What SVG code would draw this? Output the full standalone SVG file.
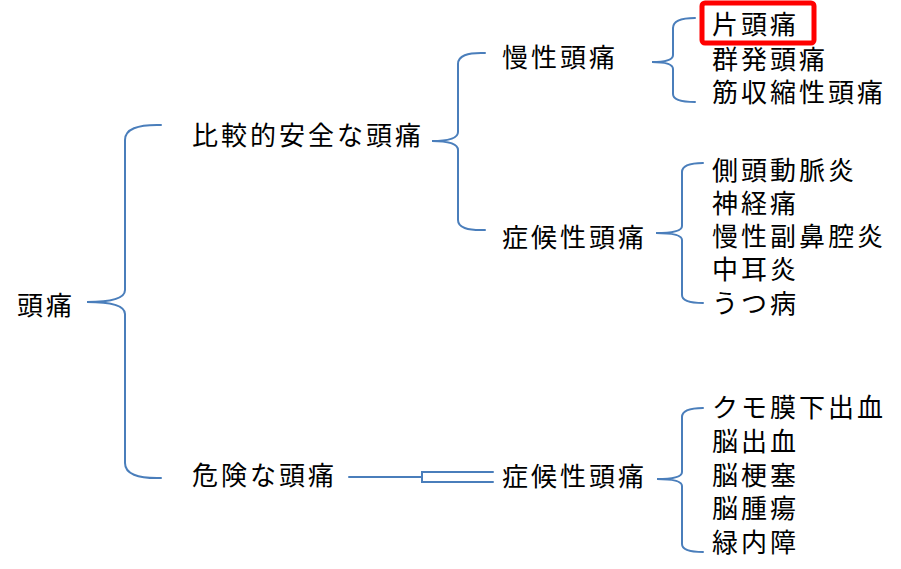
<svg xmlns="http://www.w3.org/2000/svg" width="901" height="569" viewBox="0 0 901 569">
<style>
.t{font-family:"Noto Sans CJK JP","Noto Sans CJK SC",sans-serif;font-size:26px;letter-spacing:3px;fill:#000}
.c{fill:none;stroke:#4a7ebb;stroke-width:2;stroke-linecap:round}
</style>
<rect width="901" height="569" fill="#fff"/>
<g id="connectors">
<path class="c" d="M161,125 Q125,124 125,140 L125,290 Q125,302 87,302 Q125,302 125,314 L125,463 Q125,479 161,478"/>
<path class="c" d="M485,53 Q458,52 458,64 L458,132 Q458,141 432,141 Q458,141 458,150 L458,220 Q458,231 485,230"/>
<path class="c" d="M695,18 Q673,18 673,28 L673,55 Q673,62 652,62 Q673,62 673,69 L673,94 Q673,102 695,102"/>
<path class="c" d="M703,163 Q682,163 682,172 L682,226 Q682,233 656,233 Q682,233 682,240 L682,295 Q682,303 703,303"/>
<path class="c" d="M703,408 Q682,408 682,417 L682,472 Q682,479 657,479 Q682,479 682,486 L682,544 Q682,552 703,552"/>
<path class="c" d="M349,477 L422,477"/>
<path class="c" d="M493,472 L422,472 L422,482 L493,482"/>
</g>
<g id="n-root"><text class="t" x="17" y="315">頭痛</text></g>
<g id="n-safe"><text class="t" x="192" y="145">比較的安全な頭痛</text></g>
<g id="n-danger"><text class="t" x="192" y="485">危険な頭痛</text></g>
<g id="n-chronic"><text class="t" x="502" y="67">慢性頭痛</text></g>
<g id="n-symp1"><text class="t" x="502" y="247">症候性頭痛</text></g>
<g id="n-symp2"><text class="t" x="502" y="486">症候性頭痛</text></g>
<g id="n-list1">
<rect x="702" y="3" width="112" height="40" rx="3" fill="none" stroke="#f00" stroke-width="5"/>
<text class="t" x="712" y="34">片頭痛</text>
<text class="t" x="712" y="69">群発頭痛</text>
<text class="t" x="712" y="102">筋収縮性頭痛</text>
</g>
<g id="n-list2">
<text class="t" x="712" y="180">側頭動脈炎</text>
<text class="t" x="712" y="213">神経痛</text>
<text class="t" x="712" y="246">慢性副鼻腔炎</text>
<text class="t" x="712" y="279">中耳炎</text>
<text class="t" x="712" y="313">うつ病</text>
</g>
<g id="n-list3">
<text class="t" x="712" y="417">クモ膜下出血</text>
<text class="t" x="712" y="451">脳出血</text>
<text class="t" x="712" y="485">脳梗塞</text>
<text class="t" x="712" y="518">脳腫瘍</text>
<text class="t" x="712" y="552">緑内障</text>
</g>
</svg>
